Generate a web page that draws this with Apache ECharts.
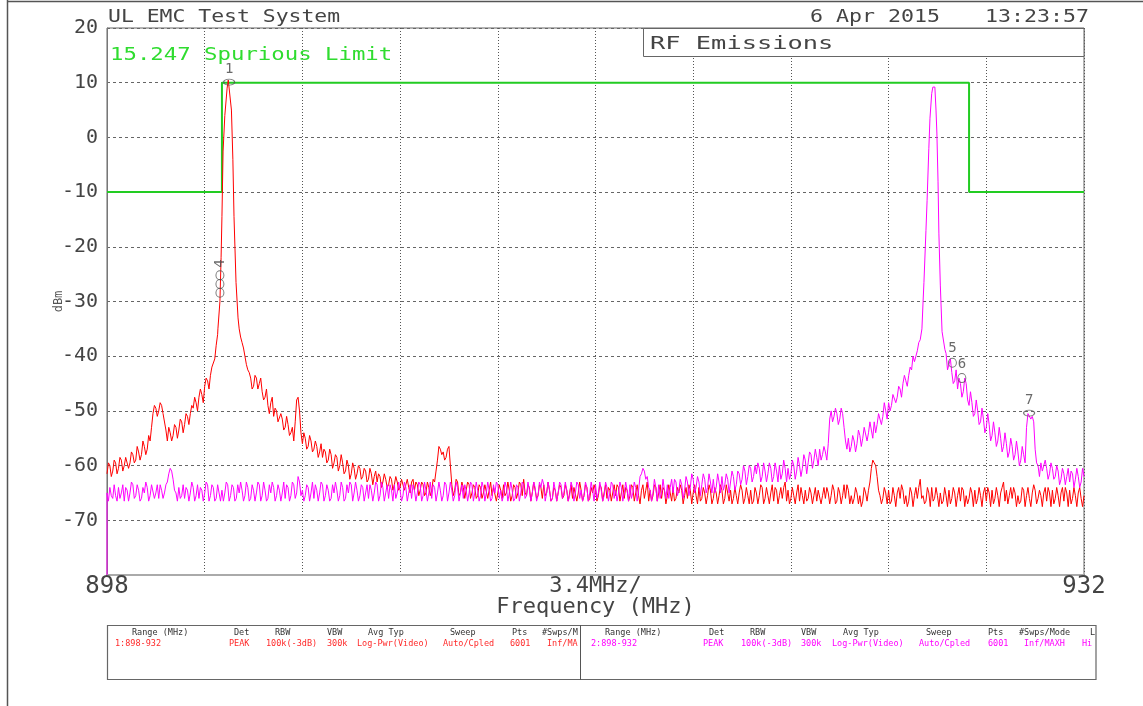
<!DOCTYPE html>
<html><head><meta charset="utf-8">
<script src="https://cdn.jsdelivr.net/npm/echarts@6.0.0/dist/echarts.min.js"></script>
<style>html,body{margin:0;padding:0;background:#fff}#c{width:1143px;height:706px}</style>
</head><body><div id="c"></div>
<script>
// ---------------- DATA ----------------
const FREQ_START = 898, FREQ_STOP = 932, FREQ_STEP = 0.1; // sweep grid (MHz)
const MID_OFFSET = 0.05;                                   // half-step readings
const X_INTERVAL = 3.4;
const xLabelValues = [898, 915, 932];
const xLabelTexts = ['898', '3.4MHz/', '932'];
const yMin = -80, yMax = 20, yInterval = 10;

// Trace 1 (red), dBm at 898.0, 898.1, ... 932.0
const trace1Grid = [
-61.5,-60,-61,-59.5,-60.5,-59,-60,-58.5,-59.5,-58,
-59,-57.5,-58,-56.5,-57,-55.5,-50.5,-49.5,-50,-49,
-50.5,-55.5,-54,-54.5,-53,-53.5,-52,-52.5,-51,-50.5,
-49.5,-48.5,-47.5,-47,-45.5,-44.5,-43.5,-42,-38,-33,
-14.5,4,10,5,-14.5,-27,-35,-37.5,-40,-42.5,
-44,-45.5,-44,-45,-46.5,-47.5,-49,-48.5,-51,-50,
-52,-51.5,-53,-52.5,-54,-55.5,-48,-50,-56,-55,
-56.5,-55.5,-57,-56.5,-57.5,-58.5,-57.5,-59,-58,-59.5,
-58.5,-60,-59.5,-61,-60,-61.5,-60.5,-61.5,-60.5,-62,
-61,-62.5,-61.5,-62,-63,-62,-63,-62.5,-63.5,-62.5,
-63.5,-63,-64,-62.5,-63.5,-64,-63,-64.5,-63.5,-64.5,
-63.5,-65,-64,-64.5,-63,-59,-57,-57.5,-58.5,-56.5,
-63.5,-64.5,-63,-65,-64,-64.5,-63.5,-65,-64,-65.5,
-64,-65,-63.5,-64.5,-65.5,-64,-65,-64.5,-63.5,-65,
-64.5,-65.5,-64,-65,-63.5,-62.5,-65.5,-64,-65,-64.5,
-65.5,-64,-63.5,-65,-64.5,-66,-64.5,-65,-64,-65.5,
-64.5,-65,-66,-64,-65,-64.5,-65.5,-64,-66,-65,
-64.5,-65.5,-64,-65,-66,-64.5,-65,-65.5,-64,-65,
-66,-64.5,-65.5,-64,-65,-65.5,-64.5,-66,-63,-64.5,
-65.5,-64,-65,-66,-64.5,-65.5,-65,-64,-66,-65,
-64.5,-65.5,-66,-64.5,-65,-65.5,-64,-66,-65,-65.5,
-64.5,-66,-65,-65.5,-64.5,-66,-65,-64.5,-66,-65.5,
-65,-64.5,-66,-65.5,-64.5,-66.5,-65,-65.5,-64,-66,
-65.5,-65,-66.5,-64.5,-65.5,-66,-63,-64.5,-66,-65.5,
-65,-66.5,-65.5,-64.5,-66,-65,-65.5,-66.5,-64.5,-65.5,
-66,-65,-65.5,-64.5,-66.5,-65,-65.5,-66,-64.5,-65.5,
-66,-65,-65.5,-66.5,-65,-64.5,-60.5,-59.5,-62,-65.5,
-66,-65,-64.5,-66.5,-65.5,-65,-66,-64.5,-65.5,-66.5,
-65,-65.5,-66,-62.5,-65.5,-66.5,-65,-64,-66,-65.5,
-65,-66.5,-65.5,-64.5,-66,-65,-65.5,-66.5,-64.5,-65.5,
-66,-65,-64.5,-66,-65.5,-65,-66.5,-65,-64.5,-66,
-65.5,-65,-63,-64.5,-65.5,-66,-65,-65.5,-66.5,-64.5,
-65.5,-66,-65,-64.5,-66,-65.5,-65,-66.5,-65,-64.5,
-66,-65.5,-65,-66.5,-65,-64.5,-66,-65.5,-65,-66,-65.5
];
// Trace 1 (red), dBm at 898.05, 898.15, ... 931.95
const trace1Mid = [
-59.5,-62,-59,-61.5,-58.5,-61,-58.5,-60.5,-57.5,-59.5,
-56.5,-59,-55.5,-58,-54.5,-53,-49,-51,-48.5,-50.5,
-53.5,-53,-55.5,-52.5,-55,-51.5,-54,-50.5,-52.5,-49,
-47.5,-50,-46,-48.5,-44,-46,-42,-40.5,-36,-31,
0,7,8,-5,-20,-30,-36.5,-38.5,-41.5,-43,
-46,-43.5,-46,-44,-48,-46,-50.5,-47.5,-49.5,-52,
-50.5,-53.5,-51,-54.5,-53,-52,-47.5,-54,-54,-57,
-54.5,-57.5,-55.5,-58.5,-56,-57,-59.5,-57,-60.5,-58,
-61,-58,-61.5,-59,-62.5,-59.5,-62.5,-60,-62.5,-60.5,
-63,-60.5,-63.5,-61,-61.5,-64,-61.5,-64,-62,-64.5,
-62,-64.5,-62.5,-64.5,-62.5,-65,-62.5,-63,-65.5,-63,
-65.5,-63,-65.5,-62.5,-61,-56.5,-58,-59,-57,-60,
-65.5,-62.5,-65.5,-63,-66,-63,-66,-63.5,-66,-63.5,
-66,-63.5,-66,-63,-64,-66.5,-63.5,-66,-65.5,-63,
-66.5,-63.5,-66,-63,-65.5,-65,-63.5,-66.5,-63,-66,
-63.5,-66,-65.5,-63,-66.5,-64,-66.5,-63.5,-66,-63.5,
-66.5,-63.5,-64,-66.5,-63,-66.5,-63.5,-66.5,-64,-63.5,
-66.5,-63.5,-66.5,-63.5,-64,-66.5,-63.5,-63.5,-66.5,-63.5,
-64,-66.5,-63.5,-66.5,-63.5,-67,-63.5,-64.5,-66.5,-66.5,
-63.5,-66.5,-63.5,-64,-67,-63.5,-66.5,-66.5,-64,-63.5,
-67,-64,-63.5,-67,-63.5,-67,-66.5,-64,-67,-63.5,
-67,-64,-67,-63.5,-67,-63.5,-66.5,-67,-64,-67,
-63.5,-67,-64,-67,-67,-64,-67,-63.5,-67,-64,
-67,-63.5,-64,-67,-64,-64,-66.5,-67,-64,-67,
-63.5,-64,-67,-66.5,-64,-67,-64,-64.5,-67,-64,
-64,-67,-63.5,-67,-64,-67,-63.5,-63.5,-67,-67,
-64,-67,-67.5,-64,-66.5,-63,-59,-60,-64.5,-67,
-64,-67,-67,-64,-67.5,-64,-63.5,-67,-67.5,-64,
-67.5,-64,-64,-66,-67,-64,-67.5,-66.5,-64,-67.5,
-67,-64,-67.5,-67,-64,-67.5,-64,-64,-67.5,-67,
-64,-67.5,-67,-64,-67.5,-64,-64,-67.5,-67,-64,
-67.5,-64,-66.5,-67,-64,-64,-67.5,-67,-64,-67.5,
-64,-67.5,-63.5,-67,-64.5,-67.5,-64,-64,-67.5,-67,
-64,-67.5,-64,-64,-67.5,-67,-64,-67.5,-64,-67.5
];
// Trace 1 carrier detail [MHz, dBm]
const trace1Peak = [
[901.86,-35],[901.93,-30],[901.97,-22],[902.0,-14.5],[902.04,-2.5],[902.1,4],[902.18,9],
[902.22,10.5],[902.28,10.5],[902.33,5],[902.38,-4],[902.42,-14.5],[902.49,-26.5],[902.56,-33]
];

// Trace 2 (magenta), dBm at 898.0, 898.1, ... 932.0
const trace2Grid = [
-65,-64,-66,-65.5,-64,-65,-66.5,-64.5,-65,-63.5,
-65.5,-64.5,-66,-65,-64,-65.5,-63.5,-65,-66,-64.5,
-65,-63,-60.5,-62.5,-65,-64,-65.5,-66,-64.5,-65,
-64,-65.5,-66,-64.5,-65,-63.5,-65.5,-64,-66,-65,
-64.5,-65,-63.5,-65.5,-64,-66,-65,-64.5,-65.5,-64,
-66,-64.5,-65,-63.5,-65.5,-64.5,-66,-65,-64,-65.5,
-64.5,-65,-66,-64,-65.5,-63.5,-65,-63,-64.5,-65.5,
-64,-65,-66,-64.5,-65,-63.5,-65.5,-64.5,-66,-65,
-64.5,-65.5,-64,-66,-65,-63.5,-65,-64.5,-65.5,-64,
-65,-66,-64.5,-65,-63.5,-65.5,-64,-65,-66,-64.5,
-63.5,-65,-64.5,-65.5,-64,-65,-66,-64.5,-65,-63.5,
-65.5,-64.5,-65,-66,-64,-65,-64.5,-65.5,-63.5,-65,
-64.5,-65.5,-64,-65,-66,-64.5,-65,-63.5,-65,-64.5,
-65.5,-64,-65,-64.5,-66,-65,-63.5,-64.5,-65.5,-64,
-65,-64.5,-66,-64,-65,-63.5,-65.5,-64.5,-65,-64,
-65.5,-64,-63.5,-65,-64.5,-66,-64.5,-65,-63.5,-65,
-64.5,-65.5,-64,-65,-63.5,-64.5,-65.5,-64,-65,-64.5,
-63.5,-65,-64.5,-65.5,-64,-65,-63.5,-64.5,-65,-64,
-65,-64.5,-63.5,-65,-64,-64.5,-61.5,-61,-62,-64.5,
-65,-64,-63.5,-65,-64.5,-63.5,-64,-65,-63,-64.5,
-63.5,-64.5,-63,-64,-62.5,-64,-63,-63.5,-62.5,-64,
-63,-62.5,-64,-63,-62,-63.5,-62.5,-63,-62,-63.5,
-61.5,-62.5,-61,-62,-60.5,-62,-61.5,-60.5,-62,-61,
-61.5,-60.5,-62,-61,-60,-61.5,-60.5,-60.5,-61.5,-60,
-61,-60,-60.5,-59,-59.5,-58,-59,-58.5,-57,-58,
-57.5,-56,-50,-51,-50.5,-51.5,-50.5,-55.5,-55,-56.5,
-55.5,-56,-54.5,-55,-53,-54,-53.5,-52,-52.5,-50.5,
-51,-50,-48.5,-49,-47,-47.5,-46,-45,-44.5,-43.5,
-42.5,-41,-39,-37,-30,-17,-2,8,9.2,-4,
-27,-37,-39.5,-41.5,-43,-44.5,-46,-45,-46.5,-45,
-49,-48.5,-50.5,-50,-52,-51.5,-53,-52.5,-54.5,-54,
-55.5,-55,-56.5,-56,-57.5,-56.5,-58,-57.5,-59,-58,
-53,-50.5,-51,-57,-60,-59.5,-61,-60.5,-61.5,-60.5,
-62,-61,-62.5,-61.5,-62,-63,-61.5,-62.5,-62,-63,-62
];
// Trace 2 (magenta), dBm at 898.05, 898.15, ... 931.95
const trace2Mid = [
-66.5,-65.5,-63.5,-66.5,-66,-63.5,-64,-66.5,-63,-66,
-63.5,-66.5,-64,-63,-66.5,-63.5,-66,-63.5,-63.5,-66,
-63.5,-61.5,-61,-64.5,-66.5,-66,-63.5,-64,-66.5,-63,
-66.5,-63.5,-64,-66.5,-63,-66.5,-63.5,-66.5,-63.5,-66.5,
-66.5,-63,-66.5,-63.5,-66.5,-63.5,-63,-66.5,-63,-66.5,
-63.5,-66.5,-63,-66.5,-63,-66.5,-63.5,-63,-66.5,-63.5,
-66.5,-63,-63.5,-66.5,-63,-66,-62,-65.5,-66.5,-63.5,
-66.5,-63,-63.5,-66.5,-63,-66.5,-63.5,-66.5,-63.5,-63,
-66.5,-63,-66.5,-63.5,-63,-66.5,-63,-66.5,-63.5,-66.5,
-63.5,-63.5,-66.5,-63,-66.5,-63,-66.5,-63.5,-63.5,-66.5,
-66,-63,-66.5,-63,-66.5,-63.5,-63.5,-66.5,-63,-66.5,
-63,-66.5,-63,-63.5,-66.5,-63,-66.5,-63,-66.5,-63,
-66.5,-63,-66.5,-63.5,-63.5,-66.5,-63,-66.5,-63,-66.5,
-63,-66.5,-63,-66.5,-63.5,-63,-66,-66.5,-63,-66.5,
-63,-66.5,-63.5,-66.5,-63,-66,-63,-66.5,-63,-66.5,
-63,-62.5,-66.5,-63,-66.5,-63,-66.5,-63,-66,-63,
-66.5,-63,-66.5,-63,-66,-66.5,-63,-66.5,-63,-66.5,
-66,-63,-66.5,-63,-66.5,-63,-66,-66.5,-63,-66.5,
-63,-66.5,-66,-63,-66.5,-62,-60.5,-62.5,-64,-66.5,
-62.5,-66.5,-66,-62.5,-66,-66,-62.5,-62.5,-65.5,-62.5,
-66,-62,-65.5,-61.5,-65,-62,-65.5,-61.5,-65,-61.5,
-65,-65,-61.5,-65,-64.5,-61.5,-65,-61,-64.5,-61,
-63.5,-60,-63.5,-60,-63,-60,-59.5,-63,-59.5,-63,
-59.5,-63,-59.5,-63,-62.5,-59,-63,-62.5,-59,-62.5,
-58.5,-62,-58,-61.5,-57.5,-60.5,-57,-60,-59,-56.5,
-59,-51.5,-52,-49.5,-52.5,-49.5,-53,-57,-57.5,-54.5,
-57.5,-53.5,-56.5,-53,-55.5,-52,-55,-54,-50.5,-52.5,
-48.5,-51.5,-50,-47,-48.5,-45.5,-47.5,-43.5,-45.5,-42,
-40,-40,-37.5,-33,-24,-10,3,9.2,5,-15,
-32,-38,-42.5,-40.5,-45,-42.5,-44,-47.5,-44,-48,
-46.5,-51,-48,-52.5,-49.5,-54,-50.5,-55.5,-52,-56.5,
-53,-57.5,-54,-58.5,-55,-59,-55.5,-60,-56.5,-59.5,
-50.5,-51.5,-52,-59.5,-62,-61,-59,-62.5,-59.5,-62.5,
-60,-63.5,-60.5,-63.5,-60.5,-61,-64,-60.5,-64,-60.5
];
// Trace 2 carrier detail [MHz, dBm]
const trace2Peak = [
[926.3,-37],[926.36,-35],[926.4,-30],[926.43,-26.5],[926.5,-17],[926.54,-11.5],[926.6,-2],
[926.64,3.5],[926.7,8],[926.74,9.2],[926.81,9.2],[926.85,5],[926.88,0.8],[926.92,-8],
[926.95,-17.5],[927.0,-27],[927.06,-35.5],[927.16,-38.8]
];
const trace2StartPoint = [898, -80];

// 15.247 spurious limit
const limitFreq  = [898, 902, 902, 928, 928, 932];
const limitLevel = [-10, -10, 10, 10, -10, -10];

// markers
const markerFreq  = [902.25, 901.93, 901.93, 901.93, 927.42, 927.75, 930.09];
const markerLevel = [10.1, -25.2, -26.8, -28.4, -41.2, -44, -50.4];
const markerText  = ['1', '', '', '4', '5', '6', '7'];

// texts
const titleText = 'UL EMC Test System';
const dateText = '6 Apr 2015';
const timeText = '13:23:57';
const limitName = '15.247 Spurious Limit';
const boxTitle = 'RF Emissions';
const xName = 'Frequency (MHz)';
const yName = 'dBm';
const tableHeaders = ['Range (MHz)','Det','RBW','VBW','Avg Typ','Sweep','Pts','#Swps/Mode','Limit'];
const trace1Settings = ['1:898-932','PEAK','100k(-3dB)','300k','Log-Pwr(Video)','Auto/Cpled','6001','Inf/MAXH','High'];
const trace2Settings = ['2:898-932','PEAK','100k(-3dB)','300k','Log-Pwr(Video)','Auto/Cpled','6001','Inf/MAXH','High'];

// ---------------- BUILD ----------------
function buildTrace(grid, mid, peak) {
  const lo = peak[0][0] - 0.001, hi = peak[peak.length - 1][0] + 0.001;
  const pts = [];
  const add = (f, v) => { if (f < lo || f > hi) pts.push([f, v]); };
  grid.forEach((v, i) => {
    add(+(FREQ_START + i * FREQ_STEP).toFixed(3), v);
    if (i < mid.length) add(+(FREQ_START + i * FREQ_STEP + MID_OFFSET).toFixed(3), mid[i]);
  });
  peak.forEach(p => pts.push(p));
  pts.sort((a, b) => a[0] - b[0]);
  return pts;
}
const t1 = buildTrace(trace1Grid, trace1Mid, trace1Peak);
const t2 = buildTrace(trace2Grid, trace2Mid, trace2Peak);
t2.unshift(trace2StartPoint);
const limitData = limitFreq.map((f, i) => [f, limitLevel[i]]);

const FONT = '"DejaVu Sans Mono", "Liberation Mono", monospace';
const markerData = markerFreq.map((f, i) => {
  const vertical = i >= 1 && i <= 5;
  const lab = {show: markerText[i] !== '', formatter: markerText[i], position: 'top', distance: 2};
  if (i === 3) Object.assign(lab, {position: 'top', distance: 20, align: 'left', verticalAlign: 'middle', rotate: 90});
  return {value: [f, markerLevel[i]], symbolSize: vertical ? [8, 9] : [11, 6], label: lab};
});

const chart = echarts.init(document.getElementById('c'), null, {renderer: 'canvas'});

function gText(x, y, text, size, fill, scaleX, extra) {
  return {
    type: 'text', x: x, y: y, scaleX: scaleX || 1, z: 60,
    style: Object.assign({text: text, font: size + 'px ' + FONT, fill: fill,
      align: 'left', textAlign: 'left', verticalAlign: 'middle', textVerticalAlign: 'middle'}, extra || {})
  };
}

const graphics = [
  {type: 'line', z: 60, shape: {x1: 7.5, y1: 0, x2: 7.5, y2: 706}, style: {stroke: '#555', lineWidth: 1.5}},
  {type: 'line', z: 60, shape: {x1: 7, y1: 1.5, x2: 1143, y2: 1.5}, style: {stroke: '#555', lineWidth: 1.5}},
  gText(108, 17, titleText, 18, '#444', 1.19),
  gText(810, 17, dateText, 18, '#444', 1.2),
  gText(985, 17, timeText, 18, '#444', 1.2),
  gText(110, 55, limitName, 18, '#2fdc2f', 1.24),
  {type: 'rect', z: 50, shape: {x: 643.5, y: 28.5, width: 440.5, height: 28}, style: {fill: '#fff', stroke: '#666', lineWidth: 1}},
  gText(650, 44, boxTitle, 18, '#444', 1.41),
  {type: 'rect', z: 50, shape: {x: 107.5, y: 625.5, width: 988.5, height: 54}, style: {fill: 'none', stroke: '#666', lineWidth: 1.2}},
  {type: 'line', z: 50, shape: {x1: 580.5, y1: 625, x2: 580.5, y2: 680}, style: {stroke: '#555', lineWidth: 1}}
];
const hdrXL = [132, 234, 275, 327, 368, 450, 512, 542];
const valXL = [115, 229, 266, 327, 357, 443, 510, 547];
const hdrXR = [605, 709, 750, 801, 843, 926, 988, 1019, 1090];
const valXR = [591, 703, 741, 801, 832, 919, 988, 1024, 1082];
hdrXL.forEach((x, i) => {
  graphics.push(gText(x, 632.5, tableHeaders[i], 8.5, '#333', 1, {width: 580 - x, overflow: 'truncate', ellipsis: ''}));
  graphics.push(gText(valXL[i], 643.5, trace1Settings[i], 8.5, '#ff2a2a', 1, {width: 580 - valXL[i], overflow: 'truncate', ellipsis: ''}));
});
hdrXR.forEach((x, i) => {
  graphics.push(gText(x, 632.5, tableHeaders[i], 8.5, '#333', 1, {width: 1098 - x, overflow: 'truncate', ellipsis: ''}));
  graphics.push(gText(valXR[i], 643.5, trace2Settings[i], 8.5, '#ff00ff', 1, {width: 1098 - valXR[i], overflow: 'truncate', ellipsis: ''}));
});

chart.setOption({
  animation: false,
  backgroundColor: '#fff',
  grid: {left: 107, right: 59, top: 28, bottom: 131, show: true, borderColor: '#666', borderWidth: 1,
         backgroundColor: 'transparent', containLabel: false, outerBoundsMode: 'none'},
  xAxis: {
    type: 'value', min: FREQ_START, max: FREQ_STOP, interval: X_INTERVAL,
    name: xName, nameLocation: 'middle', nameGap: 21, nameMoveOverlap: false,
    nameTextStyle: {fontFamily: FONT, fontSize: 22, color: '#444', verticalAlign: 'top'},
    axisLine: {show: true, onZero: false, lineStyle: {color: '#aaa', width: 2}},
    axisTick: {show: false},
    axisLabel: {
      interval: 0, margin: 0, color: '#444', fontFamily: FONT, fontSize: 24,
      formatter: function (v) {
        for (let k = 0; k < xLabelValues.length; k++) {
          if (Math.abs(v - xLabelValues[k]) < 1e-6) return k === 1 ? '{m|' + xLabelTexts[k] + '}' : xLabelTexts[k];
        }
        return '';
      },
      rich: {m: {fontFamily: FONT, fontSize: 22, color: '#444'}}
    },
    splitLine: {show: true, lineStyle: {color: '#555', type: [1, 2], width: 1}}
  },
  yAxis: {
    type: 'value', min: yMin, max: yMax, interval: yInterval,
    name: yName, nameLocation: 'middle', nameRotate: 90, nameGap: 42, nameMoveOverlap: false,
    nameTextStyle: {fontFamily: FONT, fontSize: 12, color: '#555'},
    axisLine: {show: true, onZero: false, lineStyle: {color: '#777', width: 1}},
    axisTick: {show: false},
    axisLabel: {margin: 9, color: '#444', fontFamily: FONT, fontSize: 20,
      formatter: function (v) { return v === yMin ? '' : String(v); }},
    splitLine: {show: true, lineStyle: {color: '#666', type: [3, 3], width: 1}}
  },
  series: [
    {name: 'limit', type: 'line', data: limitData, showSymbol: false, symbol: 'none',
     lineStyle: {color: '#22cc22', width: 2}, z: 3},
    {name: 'trace1', type: 'line', data: t1, showSymbol: false, symbol: 'none',
     lineStyle: {color: '#ff0000', width: 1}, z: 4},
    {name: 'trace2', type: 'line', data: t2, showSymbol: false, symbol: 'none',
     lineStyle: {color: '#ff00ff', width: 1}, z: 5},
    {name: 'markers', type: 'scatter', data: markerData, symbol: 'circle',
     itemStyle: {color: 'rgba(0,0,0,0)', borderColor: '#555', borderWidth: 1},
     label: {color: '#444', fontFamily: FONT, fontSize: 14}, z: 6}
  ],
  graphic: graphics
});
</script>
</body></html>
